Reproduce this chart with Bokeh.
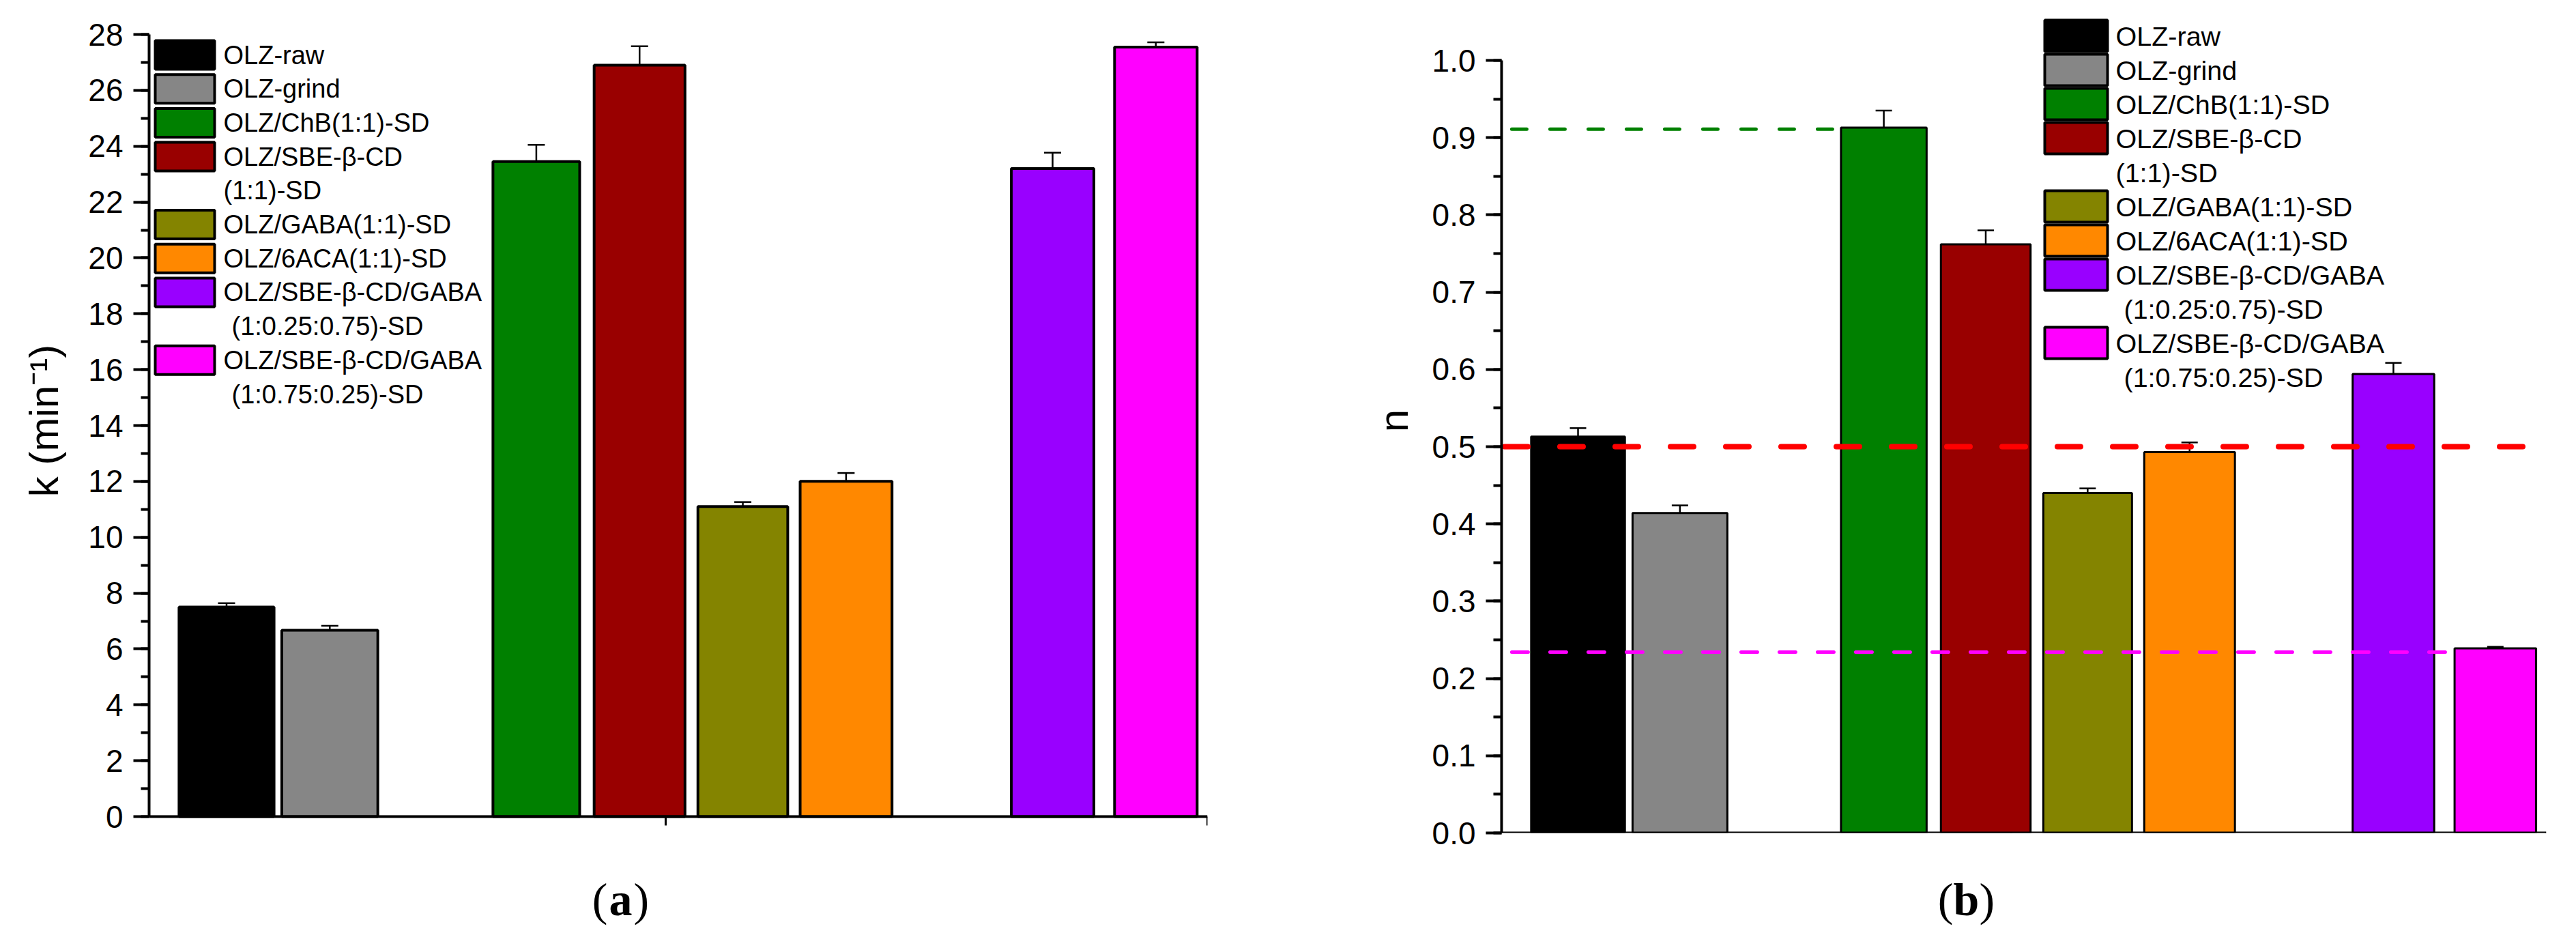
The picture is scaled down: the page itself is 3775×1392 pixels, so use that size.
from bokeh.plotting import figure
from bokeh.models import (Range1d, SingleIntervalTicker, FixedTicker, PrintfTickFormatter,
                          CustomJSTickFormatter, ColumnDataSource, Whisker, TeeHead)
from bokeh.layouts import row, column
from bokeh.embed import file_html
from bokeh.resources import INLINE
from bokeh.core.properties import value

# ---------------- data ----------------
samples = ["OLZ-raw", "OLZ-grind", "OLZ/ChB(1:1)-SD", "OLZ/SBE-β-CD (1:1)-SD",
           "OLZ/GABA(1:1)-SD", "OLZ/6ACA(1:1)-SD",
           "OLZ/SBE-β-CD/GABA (1:0.25:0.75)-SD", "OLZ/SBE-β-CD/GABA (1:0.75:0.25)-SD"]
legend_lines = [["OLZ-raw"], ["OLZ-grind"], ["OLZ/ChB(1:1)-SD"], ["OLZ/SBE-β-CD", "(1:1)-SD"],
                ["OLZ/GABA(1:1)-SD"], ["OLZ/6ACA(1:1)-SD"],
                ["OLZ/SBE-β-CD/GABA", "(1:0.25:0.75)-SD"], ["OLZ/SBE-β-CD/GABA", "(1:0.75:0.25)-SD"]]
colors = ["#000000", "#868686", "#008000", "#990000", "#848400", "#FF8800", "#9900FF", "#FF00FF"]

k_values = [7.50, 6.67, 23.45, 26.90, 11.10, 12.00, 23.20, 27.55]
k_errors = [0.14, 0.16, 0.60, 0.68, 0.16, 0.30, 0.57, 0.17]

n_values = [0.513, 0.414, 0.913, 0.762, 0.440, 0.493, 0.594, 0.239]
n_errors = [0.011, 0.010, 0.022, 0.018, 0.006, 0.0125, 0.0145, 0.002]

n_reference_levels = [0.911, 0.500, 0.234]
reference_colors = ["#008000", "#FF0000", "#FF00FF"]

panel_letters = ["a", "b"]

# ---------------- layout ----------------
bar_slots = [0, 1, 3, 4, 5, 6, 8, 9]
bar_widths = [0.92, 0.93, 0.84, 0.88, 0.87, 0.89, 0.80, 0.80]
X_START, X_END = -0.75, 9.5
x_axis_ticks = [4.25, 9.5]
FONT = "Liberation Sans"
PAGE_W = 3759
STRIP_H = 124
FRAME_TOP, FRAME_H = 20, 1208          # shared frame (screenshot px) so the row aligns
K_PX = (1204 - 58) / 28                # px per unit in panel (a)
N_PX = 1132.0                          # px per unit in panel (b)


def make_panel(values, errors, y_range, y_bounds, interval, fmt, ylabel, frame, borders,
               bar_lw, label_standoff, legend_cfg):
    fl, ft, fw, fh = frame
    bl, br, bt, bb = borders
    p = figure(title=None, frame_width=fw, frame_height=fh, min_border_left=bl,
               min_border_right=br, min_border_top=bt, min_border_bottom=bb,
               output_backend="svg", toolbar_location=None, x_range=Range1d(X_START, X_END),
               y_range=Range1d(*y_range), background_fill_color="white",
               border_fill_color="white")
    p.outline_line_color = None
    p.xgrid.visible = False
    p.ygrid.visible = False

    src = ColumnDataSource(dict(x=bar_slots, w=bar_widths, top=values, color=colors,
                                upper=[v + e for v, e in zip(values, errors)],
                                lower=[v - e for v, e in zip(values, errors)]))
    p.vbar(x="x", width="w", top="top", bottom=0, source=src, fill_color="color",
           line_color="black", line_width=bar_lw)

    # y axis
    ya = p.yaxis[0]
    ya.ticker = SingleIntervalTicker(interval=interval, num_minor_ticks=2)
    if fmt:
        ya.formatter = PrintfTickFormatter(format=fmt)
    ya.bounds = y_bounds
    ya.axis_line_width = 4
    ya.major_tick_line_width = 4
    ya.minor_tick_line_width = 4
    ya.major_tick_out = 23
    ya.major_tick_in = 0
    ya.minor_tick_out = 12
    ya.minor_tick_in = 0
    ya.major_label_standoff = 15
    ya.major_label_text_font = FONT
    ya.major_label_text_font_size = "46px"
    ya.major_label_text_color = "black"
    ya.axis_label = ylabel
    ya.axis_label_text_font = FONT
    ya.axis_label_text_font_size = "60px"
    ya.axis_label_text_font_style = "normal"
    ya.axis_label_text_color = "black"
    ya.axis_label_standoff = label_standoff

    # x axis (unlabelled ticks), drawn at y = 0
    xa = p.xaxis[0]
    xa.fixed_location = 0
    xa.ticker = FixedTicker(ticks=x_axis_ticks, minor_ticks=[])
    xa.formatter = CustomJSTickFormatter(code="return ''")
    xa.major_label_text_font_size = "1px"
    xa.major_label_standoff = 0
    xa.axis_line_width = 4
    xa.major_tick_line_width = 3
    xa.major_tick_out = 13
    xa.major_tick_in = 0
    xa.minor_tick_out = 0
    xa.minor_tick_in = 0

    # legend drawn inside the frame
    y0, y1 = y_range

    def to_x(px):
        return X_START + (px - fl) / fw * (X_END - X_START)

    def to_y(py):
        return y1 - (py - ft) / fh * (y1 - y0)

    sw_l, sw_r, txt_x, indent, line0, dy, sw_h, fsize = legend_cfg
    line = 0
    qs = dict(left=[], right=[], top=[], bottom=[], color=[])
    ts = dict(x=[], y=[], text=[])
    for i, lines in enumerate(legend_lines):
        cy = line0 + line * dy
        qs["left"].append(to_x(sw_l))
        qs["right"].append(to_x(sw_r))
        qs["top"].append(to_y(cy - sw_h / 2))
        qs["bottom"].append(to_y(cy + sw_h / 2))
        qs["color"].append(colors[i])
        for j, t in enumerate(lines):
            cy = line0 + line * dy
            ts["x"].append(to_x(txt_x + (indent if (j > 0 and "0." in t) else 0)))
            ts["y"].append(to_y(cy))
            ts["text"].append(t)
            line += 1
    p.quad(left="left", right="right", top="top", bottom="bottom", fill_color="color",
           line_color="black", line_width=4, source=ColumnDataSource(qs))
    p.text(x="x", y="y", text="text", source=ColumnDataSource(ts), text_font=value(FONT),
           text_font_size=fsize, text_baseline="middle", text_align="left", text_color="black")
    return p, src


def add_whiskers(p, src, size):
    p.add_layout(Whisker(source=src, base="x", upper="upper", lower="lower", line_width=2.5,
                         line_color="black",
                         upper_head=TeeHead(size=size, line_width=2.5, line_color="black"),
                         lower_head=TeeHead(size=size, line_width=2.5, line_color="black")))


# ---------------- panel (a) ----------------
a_range = (-(FRAME_TOP + FRAME_H - 1204) / K_PX, 28 + (58 - FRAME_TOP) / K_PX)
pa, src_a = make_panel(k_values, k_errors, a_range, (0, 28), 2, None, "k (min\u207b\u00b9)",
                       (226, FRAME_TOP, 1551, FRAME_H), (218, 215, 12, 32), 4, 28,
                       (235, 322, 335, 12, 88, 49.7, 42, "38px"))
add_whiskers(pa, src_a, 25)

# ---------------- panel (b) ----------------
b_range = (0, 1 + (1228 - FRAME_H - FRAME_TOP + (FRAME_H - N_PX)) / N_PX)
pb, src_b = make_panel(n_values, n_errors, b_range, (0, 1), 0.1, "%.1f", "n",
                       (2208, FRAME_TOP, 1531, FRAME_H), (216, 28, 12, 32), 3, 20,
                       (3004, 3096, 3108, 12, 60, 50, 46, "39.5px"))

green_end = bar_slots[2] - bar_widths[2] / 2
mag_end = bar_slots[7] - bar_widths[7] / 2
offset = 0.1
pb.line([X_START + offset, green_end], [n_reference_levels[0]] * 2, line_color=reference_colors[0],
        line_width=5, line_dash="22 34", line_cap="round")
pb.line([X_START + offset, mag_end], [n_reference_levels[2]] * 2, line_color=reference_colors[2],
        line_width=5, line_dash="24 32", line_cap="round")
pb.line([X_START + 0.03, X_END], [n_reference_levels[1]] * 2, line_color=reference_colors[1],
        line_width=8, line_dash="34 47", line_cap="round")
add_whiskers(pb, src_b, 24)

# ---------------- strip with panel letters ----------------
strip = figure(title=None, width=PAGE_W, height=STRIP_H, x_range=Range1d(0, PAGE_W),
               y_range=Range1d(0, STRIP_H), min_border=0, output_backend="svg",
               toolbar_location=None, background_fill_color="white", border_fill_color="white")
strip.axis.visible = False
strip.grid.visible = False
strip.outline_line_color = None
letter_x = [909, 2881]
letter_y = 59
half = 19
serif = value("Liberation Serif")
strip.text(x=letter_x, y=[letter_y] * 2, text=panel_letters, text_font=serif,
           text_font_size="68px", text_font_style="bold", text_align="center",
           text_baseline="middle", text_color="black")
strip.text(x=[c - half for c in letter_x], y=[letter_y] * 2, text=["("] * 2, text_font=serif,
           text_font_size="68px", text_align="right", text_baseline="middle", text_color="black")
strip.text(x=[c + half for c in letter_x], y=[letter_y] * 2, text=[")"] * 2, text_font=serif,
           text_font_size="68px", text_align="left", text_baseline="middle", text_color="black")

layout = column(row(pa, pb), strip)
open("out.html", "w").write(file_html(layout, INLINE))
